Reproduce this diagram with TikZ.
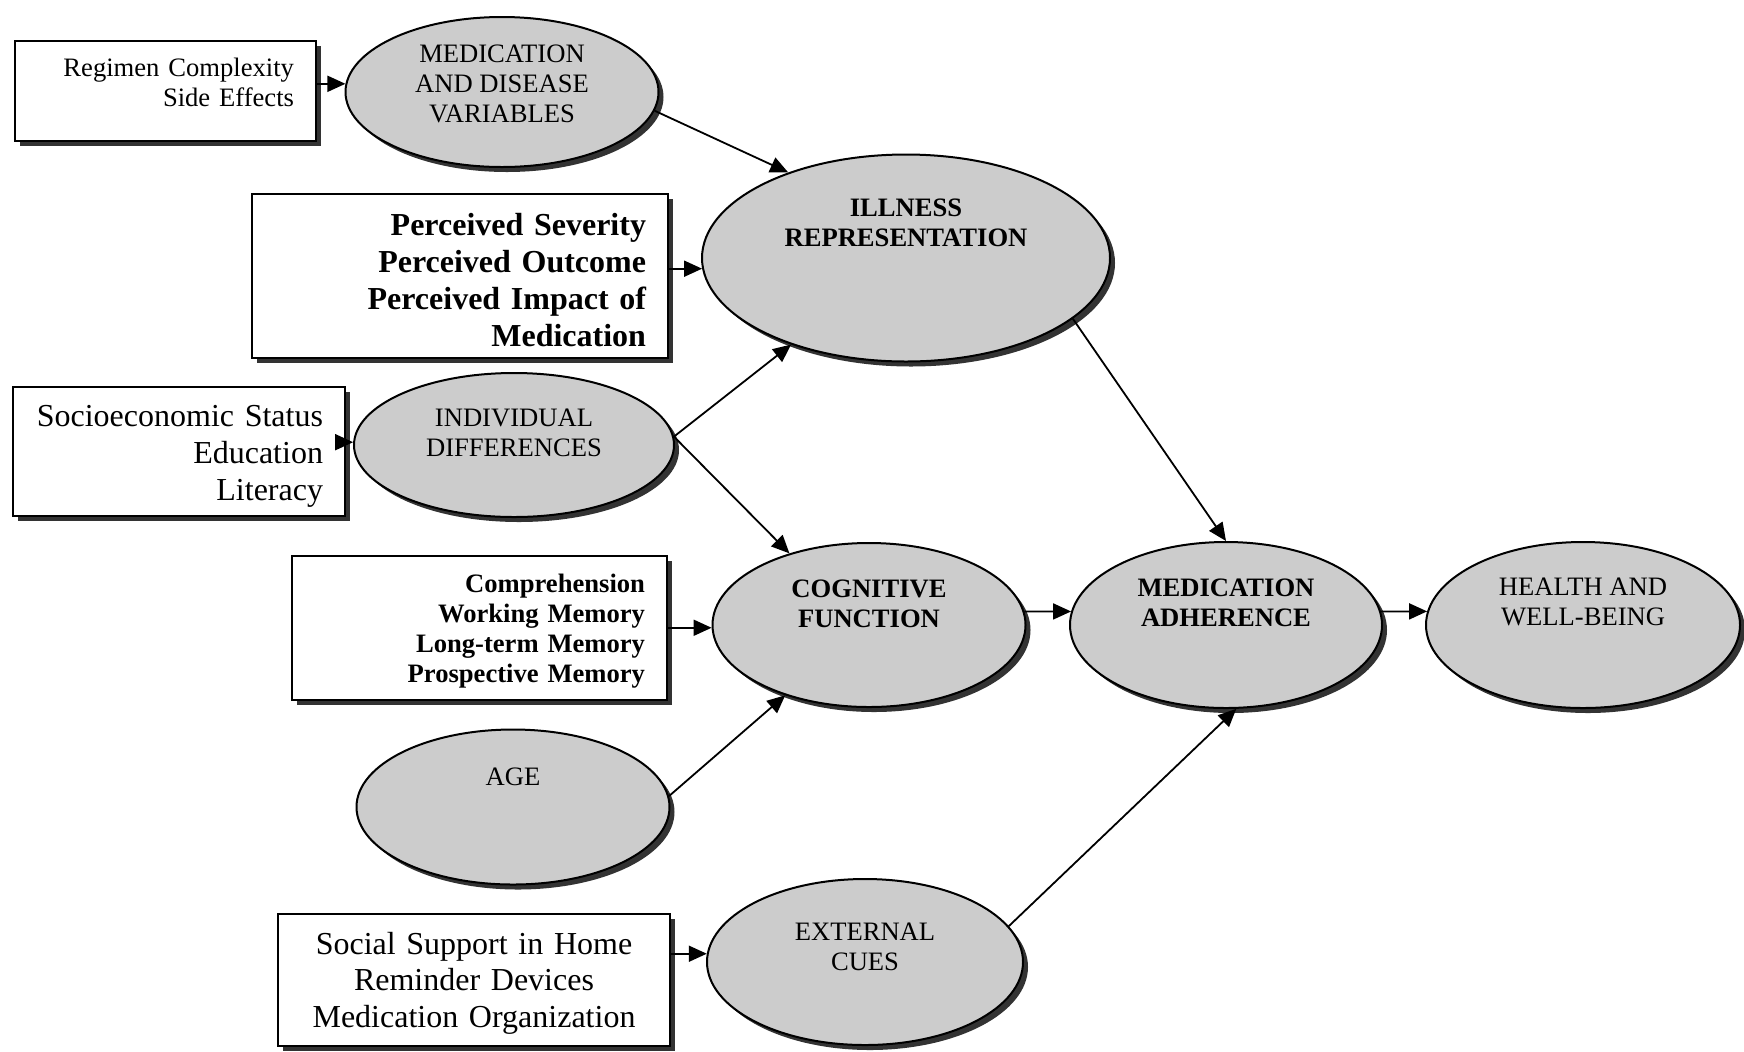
\documentclass[tikz,border=0pt]{standalone}
\usepackage{fontspec}
\setmainfont{Liberation Serif}
\usetikzlibrary{shapes.geometric,shadows,arrows.meta}

\begin{document}
\begin{tikzpicture}[x=0.5pt, y=-0.5pt, node distance=178.5pt,
    oval/.style={ellipse, draw, line width=1pt, fill=black!20, inner sep=0pt,
                 align=center, font=\fontsize{13.3}{15}\selectfont,
                 drop shadow={shadow xshift=2.5pt, shadow yshift=-2.5pt,
                              fill=black!80, opacity=1}},
    boldoval/.style={oval, font=\fontsize{13.3}{15}\selectfont\bfseries},
    box/.style={rectangle, draw, line width=1pt, fill=white,
                inner xsep=11pt, inner ysep=2pt,
                drop shadow={shadow xshift=2.5pt, shadow yshift=-2.5pt,
                             fill=black!80, opacity=1}},
    small/.style={font=\fontsize{13.3}{15}\selectfont},
    large/.style={font=\fontsize{16}{18.4}\selectfont},
    smallbold/.style={font=\fontsize{13.3}{15}\selectfont\bfseries},
    largebold/.style={font=\fontsize{16}{18.4}\selectfont\bfseries},
    arr/.style={-{Triangle[length=9pt,width=8pt]}, line width=0.9pt}]

    \useasboundingbox (0,0) rectangle (1744,1051);

    \node (med)  [oval, minimum width=156.5pt, minimum height=75pt, text depth=8pt]
                 at (502,92)     {MEDICATION\\AND DISEASE\\VARIABLES};
    \node (ill)  [boldoval, minimum width=204pt, minimum height=103.5pt, text depth=35pt]
                 at (906,258)    {ILLNESS\\REPRESENTATION};
    \node (ind)  [oval, minimum width=160pt, minimum height=72pt, text depth=12pt]
                 at (514,445)    {INDIVIDUAL\\DIFFERENCES};
    \node (cog)  [boldoval, minimum width=156.5pt, minimum height=82pt, text depth=21pt]
                 at (869,625)    {COGNITIVE\\FUNCTION};
    \node (adh)  [boldoval, minimum width=156pt, minimum height=83pt, text depth=22pt,
                  right of=cog]  {MEDICATION\\ADHERENCE};
    \node (hlth) [oval, minimum width=157pt, minimum height=83pt, text depth=23pt,
                  right of=adh]  {HEALTH AND\\WELL-BEING};
    \node (age)  [oval, minimum width=156.5pt, minimum height=77.5pt, text depth=30pt]
                 at (513,807)    {AGE};
    \node (ext)  [oval, minimum width=158pt, minimum height=83pt, text depth=15pt]
                 at (865,962)    {EXTERNAL\\CUES};

    \node (box1) [box, small, minimum width=149.5pt, minimum height=50pt,
                  text width=128.5pt, align=right, text height=9pt, text depth=24pt]
                 at (165.5,91)   {Regimen Complexity\\Side Effects};
    \node (box2) [box, largebold, minimum width=208pt, minimum height=82pt,
                  text width=186pt, align=right, text height=15.3pt]
                 at (460,276)    {Perceived Severity\\Perceived Outcome\\Perceived Impact of\\Medication};
    \node (box3) [box, large, minimum width=166pt, minimum height=64.5pt,
                  text width=144pt, align=right, text height=15.2pt]
                 at (179,451.5)  {Socioeconomic Status\\Education\\Literacy};
    \node (box4) [box, smallbold, minimum width=187.5pt, minimum height=72pt,
                  text width=165.5pt, align=right, text height=12.5pt]
                 at (479.5,628)  {Comprehension\\Working Memory\\Long-term Memory\\Prospective Memory};
    \node (box5) [box, large, minimum width=196pt, minimum height=66pt,
                  text width=174pt, align=center, text height=14.3pt]
                 at (474,980)    {Social Support in Home\\Reminder Devices\\Medication Organization};

    \draw[arr] (box1.east |- med.177) -- (med.177);
    \draw[arr] (med.-7)               -- (ill.144);
    \draw[arr] (box2.east |- ill.183) -- (ill.183);
    \draw[arr] (box3.east |- ind.179) -- (ind.179);
    \draw[arr] (ind.3)                -- (ill.-143);
    \draw[arr] (ind.3)                -- (cog.138);
    \draw[arr] (box4.east |- cog.181) -- (cog.181);
    \draw[arr] (age.4)                -- (cog.-140);
    \draw[arr] (cog.5)                -- (adh.175);
    \draw[arr] (ill.-20)              -- (adh.90);
    \draw[arr] (ext.14)               -- (adh.-83);
    \draw[arr] (box5.east |- ext.177) -- (ext.177);
    \draw[arr] (adh.5)                -- (hlth.175);
\end{tikzpicture}
\end{document}
